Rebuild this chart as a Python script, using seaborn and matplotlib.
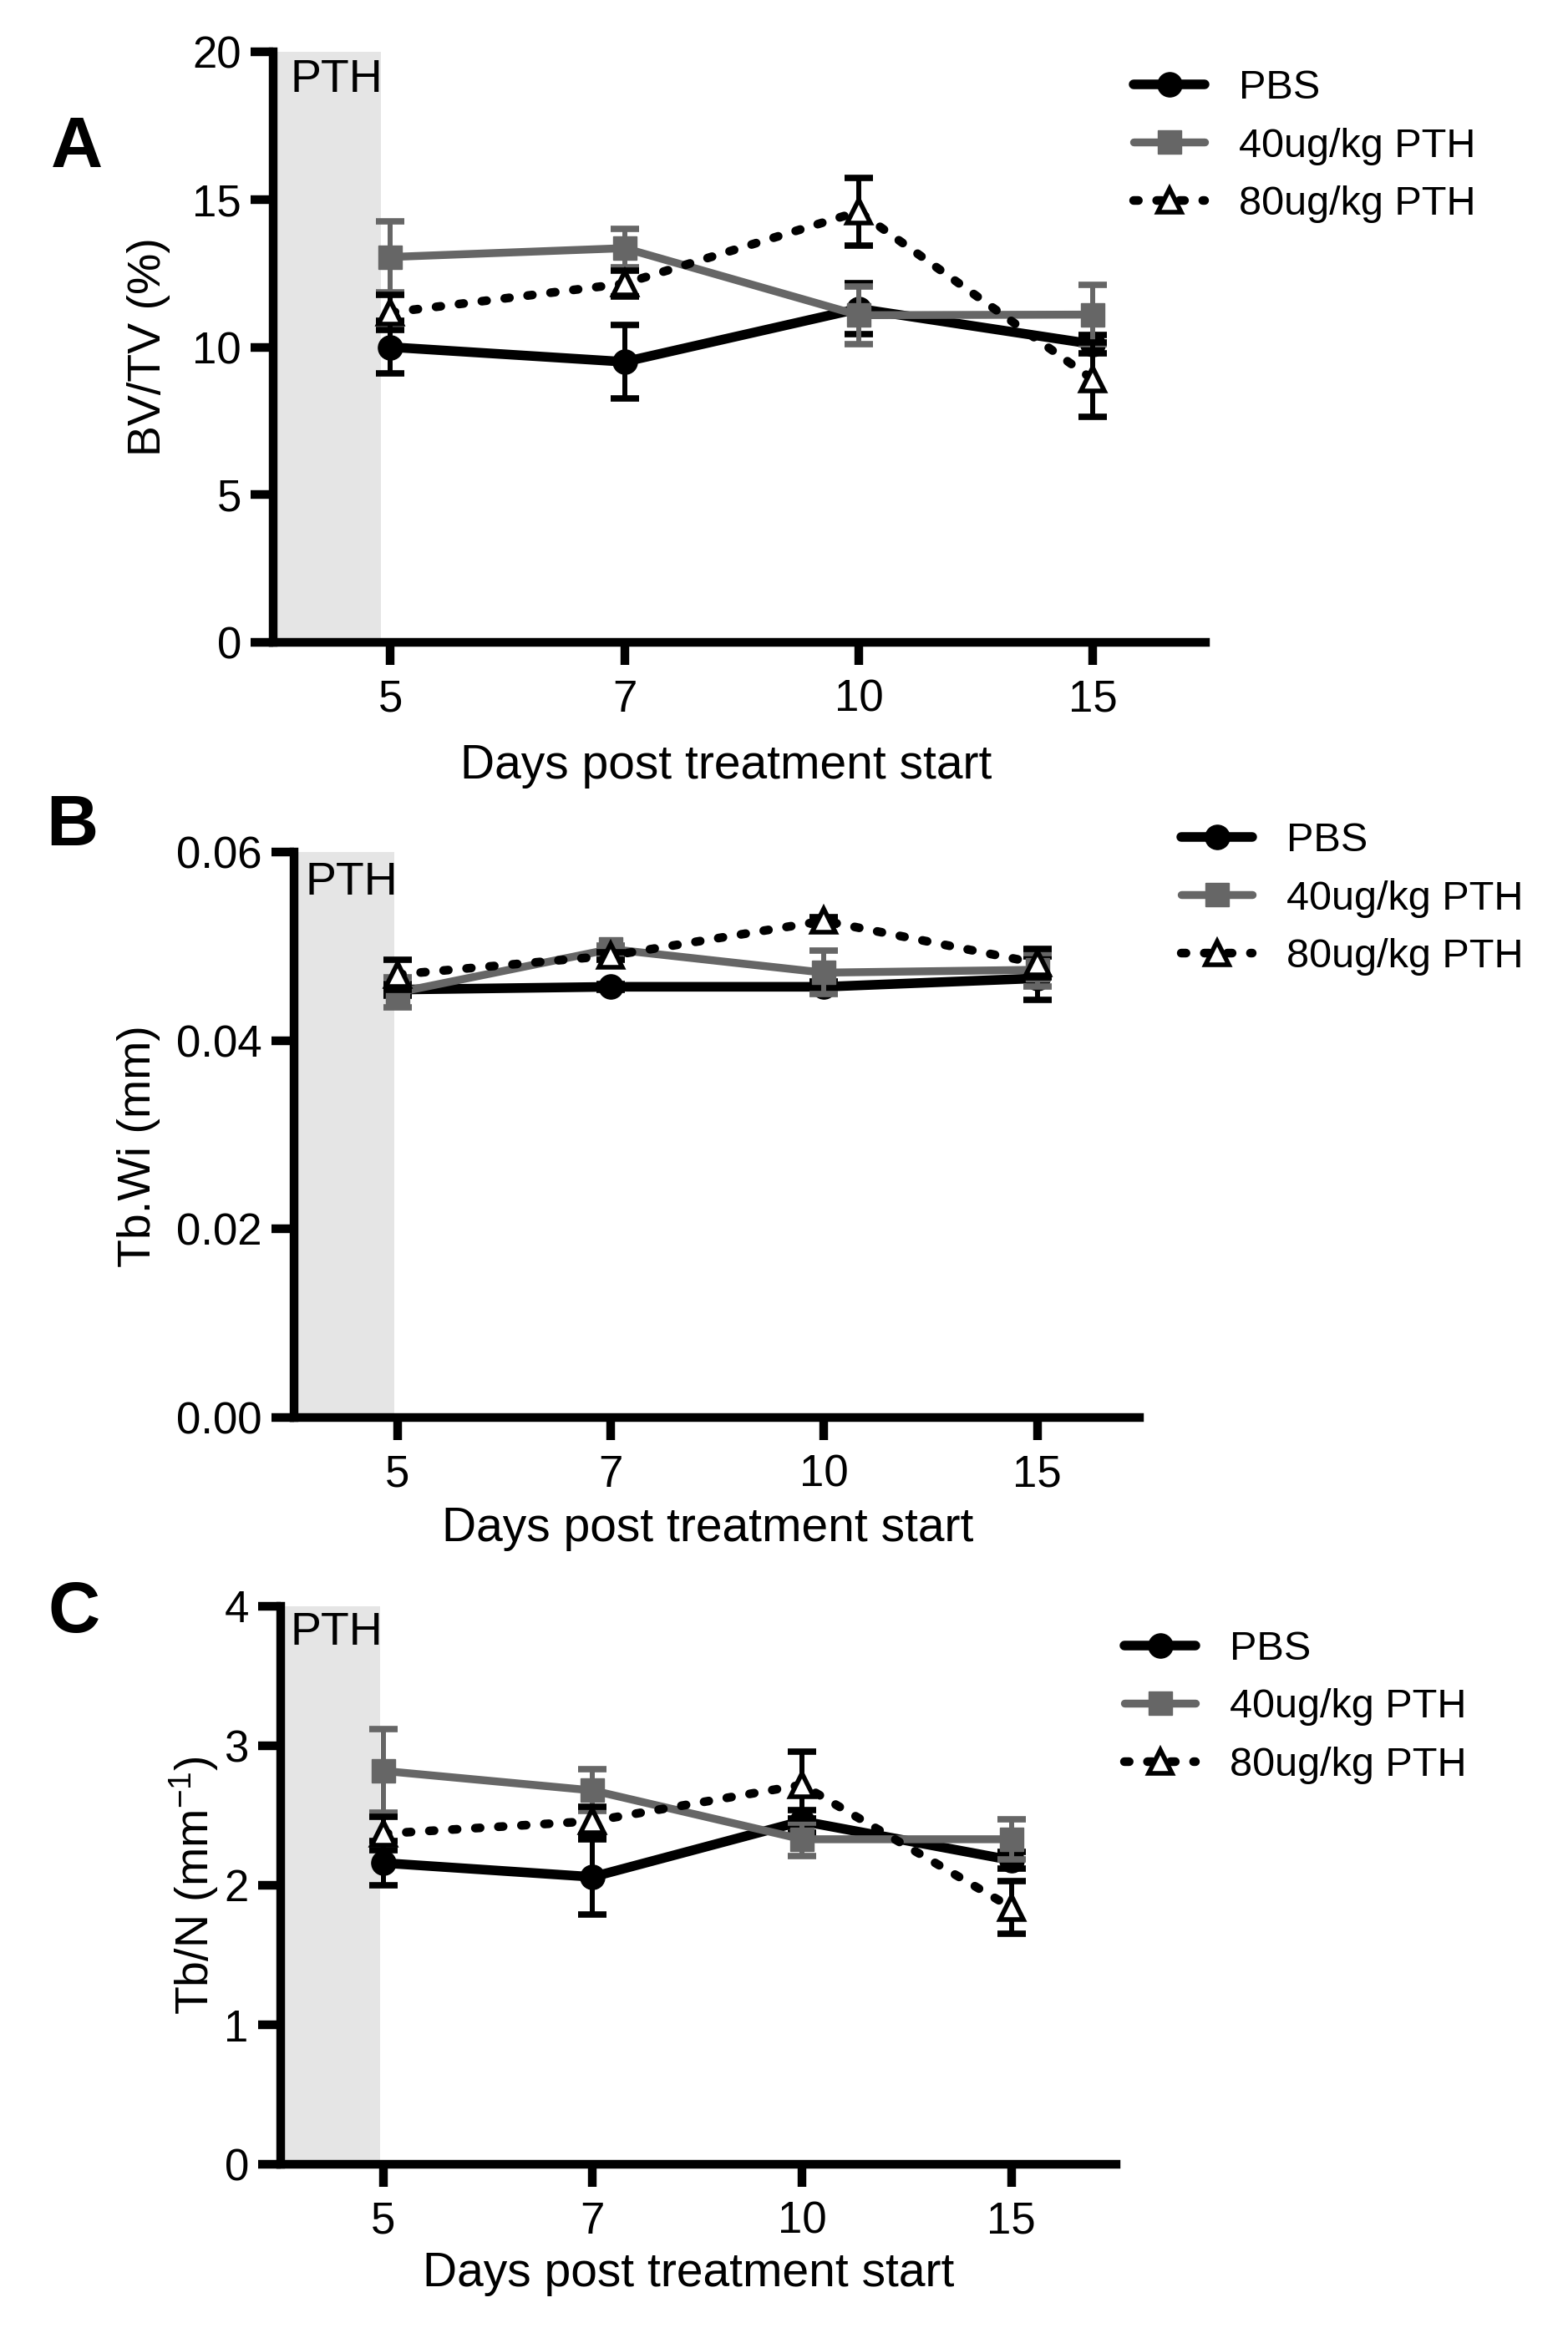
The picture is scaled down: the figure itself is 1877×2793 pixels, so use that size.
import numpy as np
import pandas as pd
import matplotlib
matplotlib.use("Agg")
import matplotlib.pyplot as plt
import seaborn as sns

# ---- data, mean +/- SEM ----
days = ["5", "7", "10", "15"]
groups = ["PBS", "40ug/kg PTH", "80ug/kg PTH"]

bvtv_pbs = [10.0, 9.5, 11.3, 10.1]
bvtv_pbs_err = [0.9, 1.25, 0.85, 0.3]
bvtv_40 = [13.05, 13.35, 11.08, 11.1]
bvtv_40_err = [1.2, 0.65, 0.97, 1.0]
bvtv_80 = [11.17, 12.15, 14.59, 8.9]
bvtv_80_err = [0.6, 0.45, 1.15, 1.25]

tbwi_pbs = [0.0454, 0.0457, 0.0457, 0.0466]
tbwi_pbs_err = [0.0006, 0.0003, 0.0006, 0.0023]
tbwi_40 = [0.0451, 0.0497, 0.0472, 0.0475]
tbwi_40_err = [0.0016, 0.0004, 0.0023, 0.0018]
tbwi_80 = [0.0470, 0.0490, 0.0527, 0.0482]
tbwi_80_err = [0.0016, 0.0004, 0.0004, 0.0015]

tbn_pbs = [2.16, 2.06, 2.46, 2.18]
tbn_pbs_err = [0.16, 0.27, 0.08, 0.06]
tbn_40 = [2.82, 2.68, 2.33, 2.33]
tbn_40_err = [0.30, 0.15, 0.12, 0.145]
tbn_80 = [2.37, 2.46, 2.72, 1.84]
tbn_80_err = [0.12, 0.10, 0.24, 0.19]

bvtv_ticks = [0, 5, 10, 15, 20]
tbwi_ticks = [0.00, 0.02, 0.04, 0.06]
tbn_ticks = [0, 1, 2, 3, 4]

# ---- style ----
sns.set_theme(style="ticks")
plt.rcParams["font.family"] = ["Liberation Sans", "DejaVu Sans"]
plt.rcParams["mathtext.default"] = "regular"
plt.rcParams["text.color"] = "black"
plt.rcParams["axes.labelcolor"] = "black"
plt.rcParams["xtick.color"] = "black"
plt.rcParams["ytick.color"] = "black"

W, H, DPI = 1877, 2793, 100
GRAY = "#666666"
SHADE = "#e5e5e5"

series_style = [
    dict(color="black", marker="o", markersize=21, markerfacecolor="black",
         markeredgecolor="black", markeredgewidth=1, linewidth=8.3,
         linestyle="-", solid_capstyle="round"),
    dict(color=GRAY, marker="s", markersize=20, markerfacecolor=GRAY,
         markeredgecolor=GRAY, markeredgewidth=1, linewidth=6.8,
         linestyle="-", solid_capstyle="round"),
    dict(color="black", marker="^", markersize=20, markerfacecolor="white",
         markeredgecolor="black", markeredgewidth=4, linewidth=7.5,
         linestyle=(0, (0.55, 2.1)), dash_capstyle="round"),
]


def rect(l, t, r, b):
    return [l / W, 1 - b / H, (r - l) / W, (b - t) / H]


fig = plt.figure(figsize=(W / DPI, H / DPI), dpi=DPI)

panels = [
    dict(letter="A", letter_xy=(92, 178), box=(327, 62, 1443, 769),
         xlim=(-0.5, 3.48), shade_end=-0.04, ylim=(0, 20),
         ylabel="BV/TV (%)", ylab_x=178, ylab_y=0.5, xlab_xy=(869, 917),
         pth_xy=(347, 96), legend_xy=(1357, 175),
         means=[bvtv_pbs, bvtv_40, bvtv_80],
         errs=[bvtv_pbs_err, bvtv_40_err, bvtv_80_err],
         yticks=bvtv_ticks, fmt="{:g}"),
    dict(letter="B", letter_xy=(86, 990), box=(352, 1020, 1364, 1697),
         xlim=(-0.486, 3.48), shade_end=-0.015, ylim=(0, 0.06),
         ylabel="Tb.Wi (mm)", ylab_x=166, ylab_y=0.48, xlab_xy=(847, 1830),
         pth_xy=(365, 1057), legend_xy=(1414, 1076),
         means=[tbwi_pbs, tbwi_40, tbwi_80],
         errs=[tbwi_pbs_err, tbwi_40_err, tbwi_80_err],
         yticks=tbwi_ticks, fmt="{:.2f}"),
    dict(letter="C", letter_xy=(89, 1932), box=(336, 1923, 1336, 2591),
         xlim=(-0.49, 3.5), shade_end=-0.015, ylim=(0, 4),
         ylabel="Tb/N (mm$^{-1}$)", ylab_x=232, ylab_y=0.5, xlab_xy=(824, 2722),
         pth_xy=(348, 1955), legend_xy=(1346, 2044),
         means=[tbn_pbs, tbn_40, tbn_80],
         errs=[tbn_pbs_err, tbn_40_err, tbn_80_err],
         yticks=tbn_ticks, fmt="{:g}"),
]

xpos = np.arange(len(days))

for p in panels:
    l, t, r, b = p["box"]
    ax = fig.add_axes(rect(l, t, r, b))

    ax.axvspan(p["xlim"][0], p["shade_end"], color=SHADE, lw=0, zorder=0)

    for i, (g, m, e, st) in enumerate(zip(groups, p["means"], p["errs"], series_style)):
        df = pd.DataFrame({"pos": xpos, "value": m})
        ax.errorbar(xpos, m, yerr=e, fmt="none", ecolor=st["color"],
                    elinewidth=4.3, capsize=12.5, capthick=5.5, zorder=2 + 2 * i)
        sns.lineplot(data=df, x="pos", y="value", ax=ax, label=g,
                     errorbar=None, zorder=3 + 2 * i, **st)

    ax.set_xlim(*p["xlim"])
    ax.set_ylim(*p["ylim"])
    ax.set_xticks(xpos)
    ax.set_xticklabels(days)
    ax.set_yticks(p["yticks"])
    ax.set_yticklabels([p["fmt"].format(v) for v in p["yticks"]])

    sns.despine(ax=ax)
    for side in ("left", "bottom"):
        ax.spines[side].set_linewidth(7.5)
        ax.spines[side].set_color("black")
        ax.spines[side].set_capstyle("projecting")
    ax.tick_params(axis="both", length=19.5, width=7.5, color="black",
                   labelsize=38, labelcolor="black")
    ax.tick_params(axis="x", pad=12)
    ax.tick_params(axis="y", pad=8)

    ax.set_xlabel("Days post treatment start", fontsize=41, va="center")
    ax.xaxis.set_label_coords((p["xlab_xy"][0] - l) / (r - l),
                              (b - p["xlab_xy"][1]) / (b - t))
    ax.set_ylabel(p["ylabel"], fontsize=40, va="center")
    ax.yaxis.set_label_coords((p["ylab_x"] - l) / (r - l), p["ylab_y"])

    fig.text(p["pth_xy"][0] / W, 1 - p["pth_xy"][1] / H, "PTH",
             fontsize=40, ha="left", va="center")
    fig.text(p["letter_xy"][0] / W, 1 - p["letter_xy"][1] / H, p["letter"],
             fontsize=62, fontweight="bold", ha="center", va="center")

    ax.legend(loc="center left",
              bbox_to_anchor=(p["legend_xy"][0] / W, 1 - p["legend_xy"][1] / H),
              bbox_transform=fig.transFigure, frameon=False, fontsize=35,
              handlelength=1.75, handletextpad=0.85, labelspacing=0.5,
              borderpad=0, borderaxespad=0)
    ax.set_facecolor("white")

fig.savefig("out.png", dpi=DPI, facecolor="white")
